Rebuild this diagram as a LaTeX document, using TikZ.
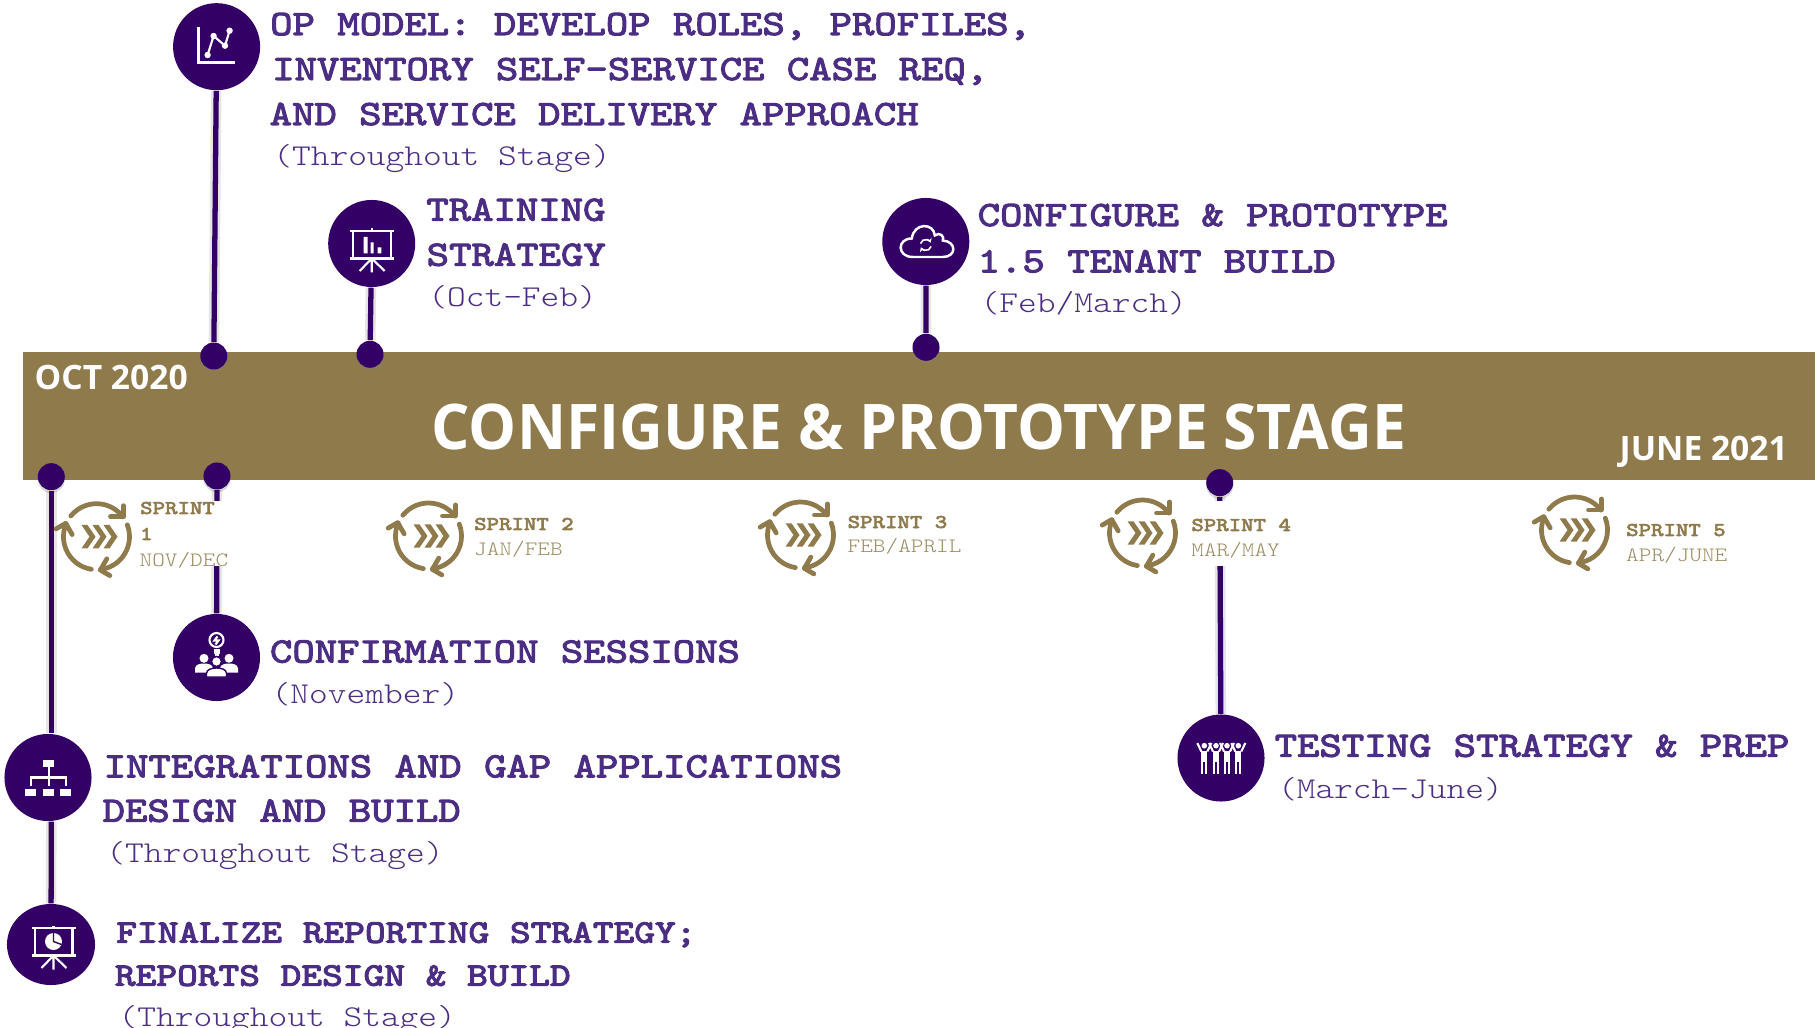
\documentclass[tikz,border=0pt]{standalone}
\usepackage{fontspec}
\usetikzlibrary{arrows.meta,shadows,shapes.geometric}
\newfontfamily\barfont{Open Sans}
\newfontfamily\titlefont[FakeStretch=0.96]{Open Sans}
\newfontfamily\headfont[FakeStretch=1.2,FakeBold=3]{Latin Modern Mono}
\newfontfamily\datefont[FakeStretch=1.18]{Latin Modern Mono Light}
\definecolor{darkplum}{HTML}{330066}
\definecolor{plumtext}{HTML}{4B2E83}
\definecolor{barGold}{HTML}{8F7A4B}
\definecolor{paleGold}{HTML}{9C8C60}
\tikzset{
  headline/.style={anchor=base west,inner sep=0pt,text=plumtext,font=\headfont\fontsize{10.1}{12}\selectfont},
  repline/.style={headline,font=\headfont\fontsize{9.35}{11}\selectfont},
  dateline/.style={anchor=base west,inner sep=0pt,text=plumtext,font=\datefont\fontsize{8.6}{10}\selectfont},
  sprinthead/.style={anchor=base west,inner sep=0pt,text=barGold,font=\headfont\fontsize{5.55}{7}\selectfont},
  sprintdate/.style={anchor=base west,inner sep=0pt,text=paleGold,font=\datefont\fontsize{5.8}{7}\selectfont},
  barlabel/.style={anchor=base west,inner sep=0pt,text=white,font=\barfont\bfseries\fontsize{9.55}{11}\selectfont},
  iconcircle/.style={circle,fill=darkplum,inner sep=0pt,minimum size=0.87cm},
  pin/.style={circle,fill=darkplum,inner sep=0pt,minimum size=0.27cm,
    drop shadow={opacity=0.3,shadow xshift=0pt,shadow yshift=-0.8pt}},
  stem/.style={darkplum,line width=1.5pt,preaction={draw,black,opacity=0.1,line width=3pt}},
  patch/.style={fill=white,inner sep=0pt},
  iconline/.style={white,line width=0.6pt},
  cycleline/.style={barGold,line width=1.35pt,line cap=round,line join=round}
}
% presentation screen used by two of the icons
\newcommand{\easel}{
  \draw[iconline] (-22,-12.5)--(22,-12.5) (0,-15)--(0,-12.5);
  \draw[iconline] (-18.5,-12.5)--(-18.5,15) (19,-12.5)--(19,15);
  \draw[iconline,line width=0.8pt] (-22,15)--(22,15);
  \draw[iconline] (0,15)--(0,29) (0,15)--(-12,27.5) (0,15)--(13,27.5);
}
\begin{document}
\begin{tikzpicture}[x=0.01cm,y=-0.01cm]
  \useasboundingbox (0,0) rectangle (1819,1028);
  \node (bar) [fill=barGold,inner sep=0pt,minimum width=17.9cm,minimum height=1.28cm] at (919,416) {};
  \node (title) [barlabel,font=\titlefont\bfseries\fontsize{17.9}{20}\selectfont] at (431,450) {CONFIGURE \& PROTOTYPE STAGE};
  \node (start) [barlabel] at (34,389.5) {OCT 2020};
  \node (end) [barlabel] at (1619,460.5) {JUNE 2021};
  % circles above and below the bar
  \node (opmodel) [iconcircle] at (216.6,46.7) {};
  \node (training) [iconcircle] at (371.7,243.5) {};
  \node (tenant) [iconcircle] at (925.8,241.5) {};
  \node (confirm) [iconcircle] at (216.5,657.5) {};
  \node (integrate) [iconcircle] at (48,777.5) {};
  \node (reports) [ellipse,fill=darkplum,inner sep=0pt,minimum width=0.88cm,minimum height=0.81cm] at (51,944.5) {};
  \node (testing) [iconcircle] at (1221,758) {};
  \node (pinop) [pin] at (213.8,356) {};
  \node (pintrain) [pin] at (370,354.3) {};
  \node (pintenant) [pin] at (926,347.3) {};
  \node (pinleft) [pin] at (51.3,476.7) {};
  \node (pinconfirm) [pin] at (217,476) {};
  \node (pintest) [pin] at (1219.7,482.7) {};
  \draw[stem] (pinop)--(opmodel);
  \draw[stem] (pintrain)--(training);
  \draw[stem] (pintenant)--(tenant);
  \draw[stem] (pinconfirm)--(confirm);
  \draw[stem] (pintest)--(testing);
  \draw[stem] (pinleft)--(pinleft|-integrate.north);
  \draw[stem] (pinleft|-integrate.south)--(reports);
  \node (gapone) [patch,minimum width=0.92cm,minimum height=0.65cm] at (186,533.5) {};
  \node (gapfour) [patch,minimum width=1cm,minimum height=0.65cm] at (1240,533.5) {};
  % sprint icons
  \foreach \n/\cx/\cy in {1/96.5/536.7,2/428.5/536,3/800.5/535,4/1142.5/533,5/1574.5/530}{
    \begin{scope}[shift={(\cx,\cy)}]
      \foreach \a in {0,-120,-240}{
        \begin{scope}[rotate=\a]
          \draw[cycleline] (-141:33) arc[start angle=-141,end angle=-37,radius=33];
          \draw[cycleline] (27,-31)--(27,-20)--(14,-20);
        \end{scope}
      }
      \foreach \s in {0,11,22}{
        \fill[barGold,shift={(\s,0)}] (-15,-11.7)--(-9,-11.7)--(-1,0)--(-9,11.7)--(-15,11.7)--(-7,0)--cycle;
      }
    \end{scope}
  }
  \node (sprintone) [sprinthead] at (139.5,514) {SPRINT};
  \node (sprintonenum) [sprinthead] at (139.5,540) {1};
  \node (sprintonedate) [sprintdate] at (139,566) {NOV/DEC};
  \node (sprinttwo) [sprinthead] at (473.5,530) {SPRINT 2};
  \node (sprinttwodate) [sprintdate] at (473.5,555.5) {JAN/FEB};
  \node (sprintthree) [sprinthead] at (847,528) {SPRINT 3};
  \node (sprintthreedate) [sprintdate] at (847,553) {FEB/APRIL};
  \node (sprintfour) [sprinthead] at (1190.7,531) {SPRINT 4};
  \node (sprintfourdate) [sprintdate] at (1190.7,557) {MAR/MAY};
  \node (sprintfive) [sprinthead] at (1625.5,536) {SPRINT 5};
  \node (sprintfivedate) [sprintdate] at (1625.5,561.5) {APR/JUNE};
  % texts
  \node (opa) [headline] at (269.5,35) {OP MODEL: DEVELOP ROLES, PROFILES,};
  \node (opb) [headline] at (271.5,80) {INVENTORY SELF-SERVICE CASE REQ,};
  \node (opc) [headline] at (269,125) {AND SERVICE DELIVERY APPROACH};
  \node (opd) [dateline] at (272.6,165.7) {(Throughout Stage)};
  \node (traina) [headline] at (425.7,220.7) {TRAINING};
  \node (trainb) [headline] at (426,265.7) {STRATEGY};
  \node (trainc) [dateline] at (427.6,306.7) {(Oct-Feb)};
  \node (tenanta) [headline] at (977,226) {CONFIGURE \& PROTOTYPE};
  \node (tenantb) [headline] at (977,272.3) {1.5 TENANT BUILD};
  \node (tenantc) [dateline] at (980,312.7) {(Feb/March)};
  \node (confirma) [headline] at (269.3,662.5) {CONFIRMATION SESSIONS};
  \node (confirmb) [dateline] at (271,703) {(November)};
  \node (intega) [headline] at (103,777.3) {INTEGRATIONS AND GAP APPLICATIONS};
  \node (integb) [headline] at (102,821.7) {DESIGN AND BUILD};
  \node (integc) [dateline] at (105.7,862.7) {(Throughout Stage)};
  \node (repa) [repline] at (115.7,942.7) {FINALIZE REPORTING STRATEGY;};
  \node (repb) [repline] at (114.3,985.7) {REPORTS DESIGN \& BUILD};
  \node (repc) [dateline] at (118,1026) {(Throughout Stage)};
  \node (testa) [headline] at (1274,756.7) {TESTING STRATEGY \& PREP};
  \node (testb) [dateline] at (1277.3,798.3) {(March-June)};
  % chart icon
  \begin{scope}[shift={(opmodel.center)}]
    \draw[iconline,line width=0.8pt] (-18,-20)--(-18,15.5)--(18,15.5);
    \draw[iconline] (-9,8.3)--(-3,-10.7)--(8.4,-1)--(13,-16);
    \foreach \px/\py in {-9/8.3,-3/-10.7,8.4/-1,13/-16}{\fill[white] (\px,\py) circle (3.2);}
  \end{scope}
  % training icon
  \begin{scope}[shift={(training.center)}]
    \easel
    \fill[white] (-8,-6.5) rectangle (-4,10) (-1,-1) rectangle (2,10) (6,4) rectangle (9.7,10);
  \end{scope}
  % cloud icon
  \begin{scope}[shift={(tenant.center)}]
    \draw[iconline,line width=0.7pt] (-13,15.5) .. controls (-29,15.5) and (-29,-3) .. (-14,-3)
      .. controls (-12,-19) and (8,-19) .. (9,-6) .. controls (14,-10) and (19,-5) .. (17,-1)
      .. controls (31,0) and (31,15.5) .. (17,15.5) -- cycle;
    \draw[iconline,-{Stealth[length=1.2pt,width=1.6pt]},line width=0.45pt] (0,3.5) ++(-165:5.5) arc[start angle=-165,end angle=-25,radius=5.5];
    \draw[iconline,-{Stealth[length=1.2pt,width=1.6pt]},line width=0.45pt] (0,3.5) ++(15:5.5) arc[start angle=15,end angle=155,radius=5.5];
  \end{scope}
  % bulb and people icon
  \begin{scope}[shift={(confirm.center)}]
    \draw[iconline] (0,-17.5) circle (7);
    \draw[iconline] (-3,-7.5)--(3,-7.5) (-3,-5)--(3,-5) (-2,-2.5)--(2,-2.5);
    \draw[iconline] (1,-21)--(-2,-17)--(2,-17)--(-1,-13);
    \foreach \s in {-12.5,12.5}{
      \fill[white] (\s,0.8) circle (4.5);
      \fill[white,shift={(\s,0)}] (-9,15) -- (-9,11) .. controls (-9,7) and (-4,6) .. (0,6) .. controls (4,6) and (9,7) .. (9,11) -- (9,15) -- cycle;
    }
    \fill[white,draw=darkplum,line width=0.4pt] (0,4) circle (5);
    \fill[white,draw=darkplum,line width=0.4pt] (-10,19.5) -- (-10,16) .. controls (-10,12) and (-5,10.5) .. (0,10.5) .. controls (5,10.5) and (10,12) .. (10,16) -- (10,19.5) -- cycle;
  \end{scope}
  % hierarchy icon
  \begin{scope}[shift={(integrate.center)}]
    \fill[white] (-5,-17.5) rectangle (6,-10.8);
    \foreach \bx in {-23,-5,12.3}{\fill[white] (\bx,11.8) rectangle +(11,6.7);}
    \draw[iconline] (0.7,-10.8)--(0.7,8.5) (-17.3,8.5)--(-17.3,0)--(18,0)--(18,8.5);
  \end{scope}
  % pie chart icon
  \begin{scope}[shift={(reports.center)},shift={(2.5,-4)}]
    \easel
    \fill[white] (0,1) circle (8.5);
    \draw[darkplum,line width=0.4pt] (0,-7.5)--(0,1)--(8,4);
  \end{scope}
  % people with raised arms
  \begin{scope}[shift={(testing.center)}]
    \foreach \s in {-16.7,-5,6,17.3}{
      \fill[white] (\s,-12.3) circle (2.8);
      \fill[white] (\s-3,-7) rectangle (\s+3,4);
      \draw[iconline] (\s-2,4)--(\s-2,16) (\s+2,4)--(\s+2,16);
      \draw[iconline] (\s-3,-6.5)--(\s-7,-15) (\s+3,-6.5)--(\s+7,-15);
    }
  \end{scope}
\end{tikzpicture}
\end{document}
